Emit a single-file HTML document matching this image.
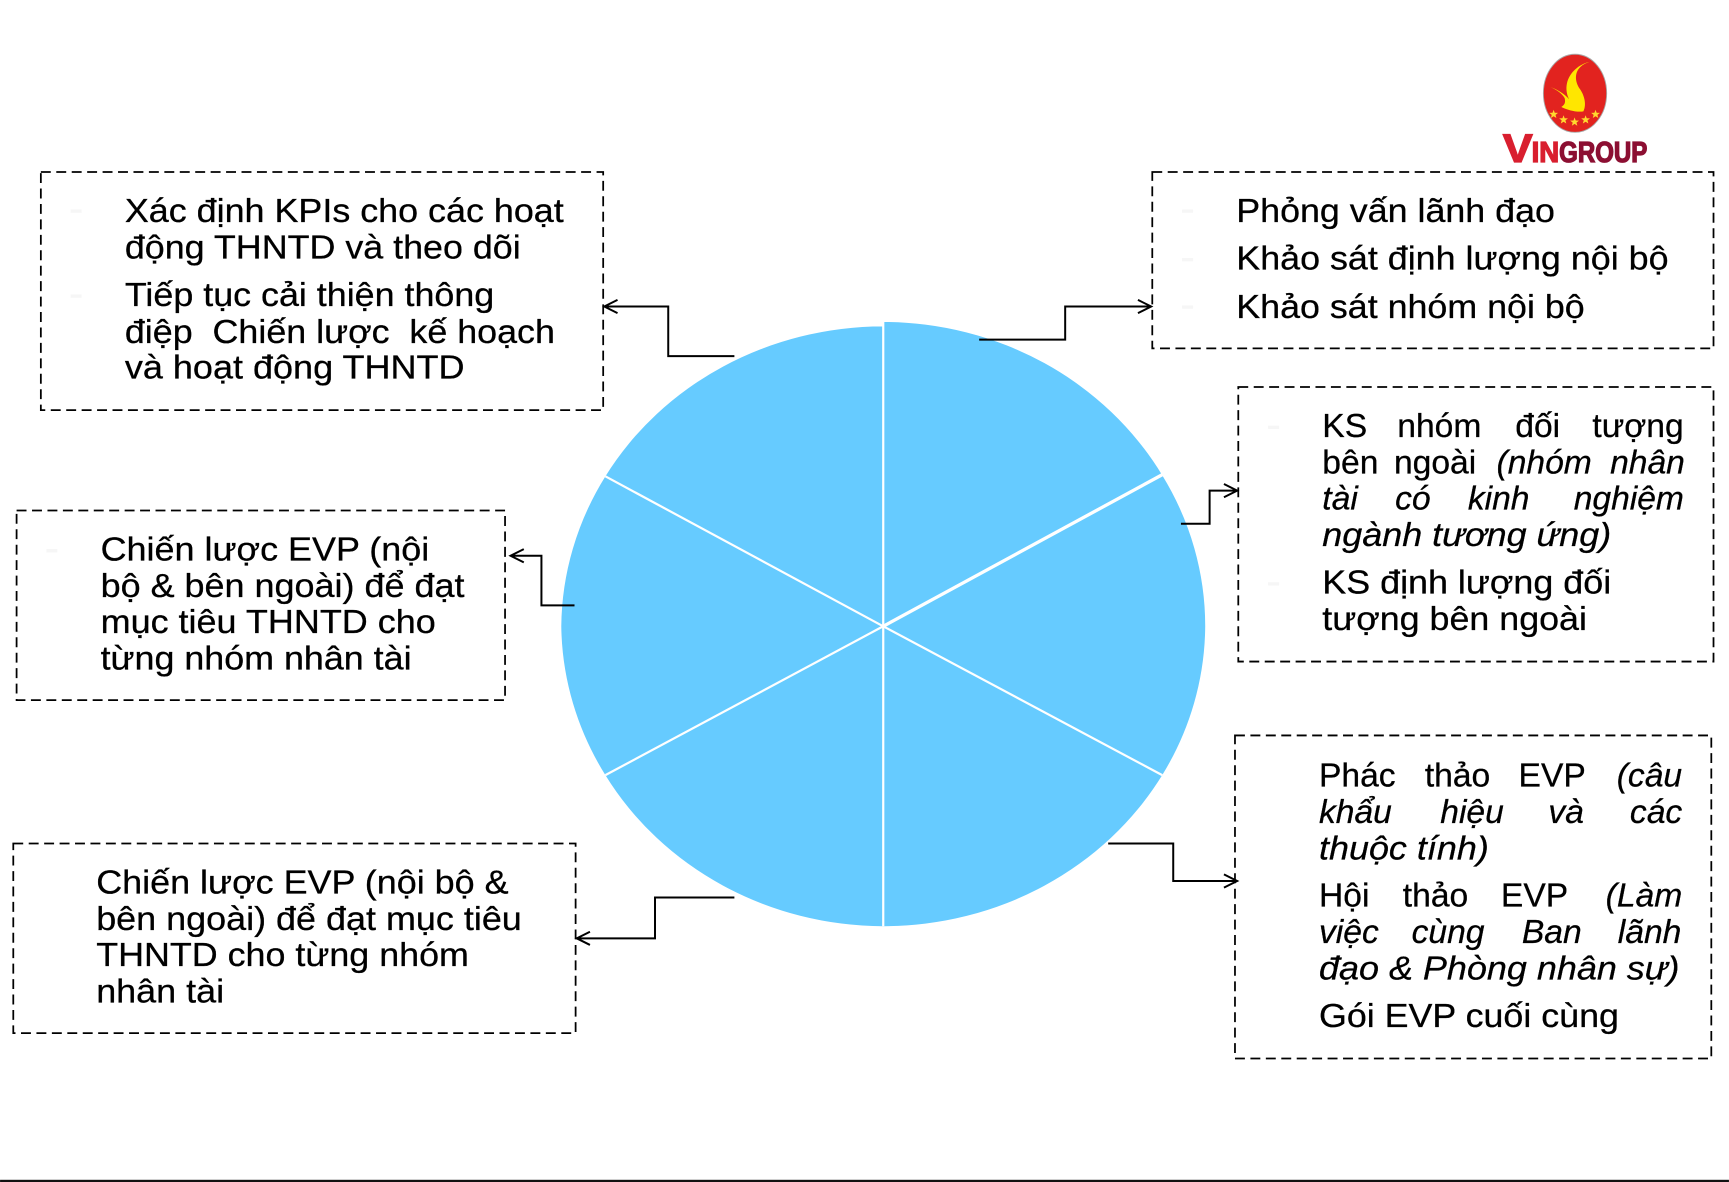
<!DOCTYPE html>
<html><head><meta charset="utf-8"><title>EVP</title>
<style>
html,body{margin:0;padding:0;background:#fff;width:1729px;height:1182px;overflow:hidden}
svg{display:block}
text{font-family:"Liberation Sans",sans-serif;font-size:30.5px;fill:#000;stroke:#000;stroke-width:.25px}
.i{font-style:italic}
.b{fill:none;stroke:#000;stroke-width:1.6;stroke-dasharray:9 5}
.c{fill:none;stroke:#000;stroke-width:1.8}
.w{stroke:#fff;stroke-width:2;fill:none}
</style></head><body>
<svg xmlns="http://www.w3.org/2000/svg" width="1729" height="1182" viewBox="0 0 1568 1072">
<rect width="1568" height="1072" fill="#fff"/>
<!-- pie -->
<path fill="#66cbff" d="M801 568 L801 296 A292 274 0 0 0 549 432 A292 274 0 0 0 509 568 A292 274 0 0 0 549 703 A292 274 0 0 0 801 840 A292 274 0 0 0 1054 703 A292 274 0 0 0 1093 568 A292 274 0 0 0 1054 431 A292 276 0 0 0 801 292 Z"/>
<path class="w" d="M801 292V840M549 432L801 568L1054 703M549 703L801 568"/>
<path class="w" style="stroke-width:3" d="M801 568L1055 430"/>
<!-- boxes -->
<rect class="b" x="37" y="156" width="510" height="216"/>
<rect class="b" x="1045" y="156" width="509" height="160"/>
<rect class="b" x="1123" y="351" width="431" height="249"/>
<rect class="b" x="15" y="463" width="443" height="172"/>
<rect class="b" x="12" y="765" width="510" height="172"/>
<rect class="b" x="1120" y="667" width="432" height="293"/>
<!-- connectors -->
<path class="c" d="M666 323H606V278H548M560 272L548 278L560 284"/>
<path class="c" d="M888 308H966V278H1044M1032 272L1044 278L1032 284"/>
<path class="c" d="M1071 475H1097V445H1122M1110 439L1122 445L1110 451"/>
<path class="c" d="M521 549H491V504H463M475 498L463 504L475 510"/>
<path class="c" d="M666 814H594V851H523M535 845L523 851L535 857"/>
<path class="c" d="M1005 765H1064V799H1122M1110 793L1122 799L1110 805"/>
<!-- bottom line -->
<rect x="0" y="1070" width="1568" height="2" fill="#111"/>
<!-- faint bullets -->
<g fill="#f6f6f6"><rect x="64" y="190" width="10" height="3"/><rect x="64" y="267" width="10" height="3"/><rect x="1072" y="190" width="10" height="3"/><rect x="1072" y="234" width="10" height="3"/><rect x="1072" y="277" width="10" height="3"/><rect x="1150" y="386" width="10" height="3"/><rect x="1150" y="528" width="10" height="3"/><rect x="42" y="498" width="10" height="3"/></g>
<g transform="translate(0.2,0.3)">
<!-- box 1 -->
<text x="113" y="201" textLength="398" lengthAdjust="spacingAndGlyphs">Xác định KPIs cho các hoạt</text>
<text x="113" y="234" textLength="359" lengthAdjust="spacingAndGlyphs">động THNTD và theo dõi</text>
<text x="113" y="277" textLength="335" lengthAdjust="spacingAndGlyphs">Tiếp tục cải thiện thông</text>
<text x="113" y="311" textLength="390" lengthAdjust="spacingAndGlyphs" xml:space="preserve">điệp  Chiến lược  kế hoạch</text>
<text x="113" y="343" textLength="308" lengthAdjust="spacingAndGlyphs">và hoạt động THNTD</text>
<!-- box 2 -->
<text x="1121" y="201" textLength="289" lengthAdjust="spacingAndGlyphs">Phỏng vấn lãnh đạo</text>
<text x="1121" y="244" textLength="392" lengthAdjust="spacingAndGlyphs">Khảo sát định lượng nội bộ</text>
<text x="1121" y="288" textLength="316" lengthAdjust="spacingAndGlyphs">Khảo sát nhóm nội bộ</text>
<!-- box 3 -->
<text y="396"><tspan x="1199">KS</tspan><tspan x="1267">nhóm</tspan><tspan x="1374">đối</tspan><tspan x="1444">tượng</tspan></text>
<text y="429"><tspan x="1199">bên</tspan><tspan x="1264">ngoài</tspan><tspan x="1357" class="i">(nhóm</tspan><tspan x="1460" class="i">nhân</tspan></text>
<text y="462" class="i"><tspan x="1199">tài</tspan><tspan x="1265">có</tspan><tspan x="1331">kinh</tspan><tspan x="1427">nghiệm</tspan></text>
<text y="495" class="i" x="1199" textLength="262" lengthAdjust="spacingAndGlyphs">ngành tương ứng)</text>
<text x="1199" y="538" textLength="262" lengthAdjust="spacingAndGlyphs">KS định lượng đối</text>
<text x="1199" y="571" textLength="240" lengthAdjust="spacingAndGlyphs">tượng bên ngoài</text>
<!-- box 4 -->
<text x="91" y="508" textLength="298" lengthAdjust="spacingAndGlyphs">Chiến lược EVP (nội</text>
<text x="91" y="541" textLength="330" lengthAdjust="spacingAndGlyphs">bộ &amp; bên ngoài) để đạt</text>
<text x="91" y="574" textLength="304" lengthAdjust="spacingAndGlyphs">mục tiêu THNTD cho</text>
<text x="91" y="607" textLength="282" lengthAdjust="spacingAndGlyphs">từng nhóm nhân tài</text>
<!-- box 5 -->
<text x="87" y="810" textLength="374" lengthAdjust="spacingAndGlyphs">Chiến lược EVP (nội bộ &amp;</text>
<text x="87" y="843" textLength="386" lengthAdjust="spacingAndGlyphs">bên ngoài) để đạt mục tiêu</text>
<text x="87" y="876" textLength="338" lengthAdjust="spacingAndGlyphs">THNTD cho từng nhóm</text>
<text x="87" y="909" textLength="116" lengthAdjust="spacingAndGlyphs">nhân tài</text>
<!-- box 6 -->
<text y="713"><tspan x="1196">Phác</tspan><tspan x="1292">thảo</tspan><tspan x="1377">EVP</tspan><tspan x="1466" class="i">(câu</tspan></text>
<text y="746" class="i"><tspan x="1196">khẩu</tspan><tspan x="1306">hiệu</tspan><tspan x="1404">và</tspan><tspan x="1478">các</tspan></text>
<text y="779" class="i" x="1196" textLength="154" lengthAdjust="spacingAndGlyphs">thuộc tính)</text>
<text y="822"><tspan x="1196">Hội</tspan><tspan x="1272">thảo</tspan><tspan x="1361">EVP</tspan><tspan x="1456" class="i">(Làm</tspan></text>
<text y="855" class="i"><tspan x="1196">việc</tspan><tspan x="1280">cùng</tspan><tspan x="1380">Ban</tspan><tspan x="1467">lãnh</tspan></text>
<text y="888" class="i" x="1196" textLength="327" lengthAdjust="spacingAndGlyphs">đạo &amp; Phòng nhân sự)</text>
<text x="1196" y="931" textLength="272" lengthAdjust="spacingAndGlyphs">Gói EVP cuối cùng</text>
</g>
<!-- logo -->
<ellipse cx="1428.4" cy="84.6" rx="28.7" ry="35.4" fill="#e2231f" stroke="#a8a8a8" stroke-width=".8"/>
<path fill="#ffe600" d="M1442 56C1432 58 1423 66 1421 76C1420 81 1421 86 1423 90C1419 85 1412 81 1406 79C1411 81 1417 85 1419 89C1420 93 1419 95 1416 97C1422 100 1430 102 1436 101C1439 95 1437 87 1433 81C1428 74 1428 66 1433 61C1436 58 1439 57 1442 56Z"/>
<g fill="#ffd92e">
<polygon points="1409,99.5 1410,102.3 1413,102.4 1410.7,104.2 1411.5,107 1409,105.4 1406.5,107 1407.3,104.2 1405,102.4 1408,102.3"/>
<polygon points="1418,104.5 1419,107.3 1422,107.4 1419.7,109.2 1420.5,112 1418,110.4 1415.5,112 1416.3,109.2 1414,107.4 1417,107.3"/>
<polygon points="1428,106.5 1429,109.3 1432,109.4 1429.7,111.2 1430.5,114 1428,112.4 1425.5,114 1426.3,111.2 1424,109.4 1427,109.3"/>
<polygon points="1438,104.5 1439,107.3 1442,107.4 1439.7,109.2 1440.5,112 1438,110.4 1435.5,112 1436.3,109.2 1434,107.4 1437,107.3"/>
<polygon points="1447,99.5 1448,102.3 1451,102.4 1448.7,104.2 1449.5,107 1447,105.4 1444.5,107 1445.3,104.2 1443,102.4 1446,102.3"/>
</g>
<text x="1363" y="147" style="font-size:36px;font-weight:700;fill:#d91f2f;stroke:#d91f2f;stroke-width:1.2px" textLength="27" lengthAdjust="spacingAndGlyphs">V</text>
<text x="1389" y="147" style="font-size:26px;font-weight:700;fill:#d91f2f;stroke:#d91f2f;stroke-width:1.2px" textLength="25" lengthAdjust="spacingAndGlyphs">IN</text>
<text x="1414" y="147" style="font-size:26px;font-weight:700;fill:#8c0f32;stroke:#8c0f32;stroke-width:1.2px" textLength="80" lengthAdjust="spacingAndGlyphs">GROUP</text>
</svg>
</body></html>
